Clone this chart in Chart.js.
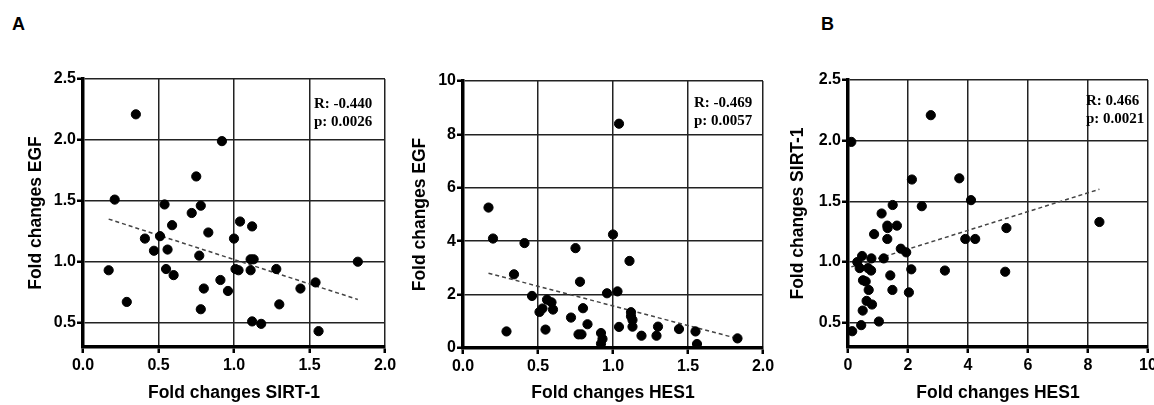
<!DOCTYPE html>
<html>
<head>
<meta charset="utf-8">
<script src="https://cdn.jsdelivr.net/npm/chart.js@4"></script>
<style>
  body { margin: 0; background: #fff; }
  #wrap { position: relative; width: 1154px; height: 405px; overflow: hidden; }
  .panel { position: absolute; top: 0; height: 405px; }
  .letter { position: absolute; font: bold 18px "Liberation Sans", Arial, sans-serif; color: #000; }
</style>
</head>
<body>
<div id="wrap">
  <div class="letter" style="left:12px; top:14px;">A</div>
  <div class="letter" style="left:821px; top:14px;">B</div>
  <div class="panel" style="left:0; width:400px;"><canvas id="c1"></canvas></div>
  <div class="panel" style="left:400px; width:380px;"><canvas id="c2"></canvas></div>
  <div class="panel" style="left:780px; width:374px;"><canvas id="c3"></canvas></div>
</div>
<script>
// panel A left: SIRT-1 vs EGF
const sirtX = [0.35, 0.92, 0.75, 0.21, 0.54, 0.78, 0.72, 0.59, 1.04, 1.12, 0.83, 0.41, 0.51, 1.00, 0.47,
  0.56, 0.77, 1.11, 1.13, 1.82, 0.17, 0.55, 0.60, 1.01, 1.03, 1.11, 1.28, 0.91, 1.54, 0.80, 0.96, 1.44,
  0.29, 1.30, 0.78, 1.12, 1.18, 1.56];
const egfY1 = [2.21, 1.99, 1.70, 1.51, 1.47, 1.46, 1.40, 1.30, 1.33, 1.29, 1.24, 1.19, 1.21, 1.19, 1.09,
  1.10, 1.05, 1.02, 1.02, 1.00, 0.93, 0.94, 0.89, 0.94, 0.93, 0.93, 0.94, 0.85, 0.83, 0.78, 0.76, 0.78,
  0.67, 0.65, 0.61, 0.51, 0.49, 0.43];
const trendA1X = [0.17, 1.82];
const trendA1Y = [1.35, 0.69];
const statsA1 = ['R: -0.440', 'p: 0.0026'];

// panel A right: HES1 vs EGF
const hesX2 = [1.04, 0.17, 0.20, 0.41, 1.00, 0.75, 1.11, 0.34, 0.78, 0.96, 1.03, 0.46, 0.56, 0.59, 0.60,
  0.53, 0.51, 0.80, 0.72, 1.12, 1.12, 1.13, 1.13, 0.83, 1.04, 1.30, 1.44, 1.55, 0.29, 0.55, 0.77, 0.79,
  0.92, 0.93, 0.92, 1.19, 1.29, 1.83, 1.56];
const egfY2 = [8.40, 5.26, 4.10, 3.93, 4.25, 3.74, 3.26, 2.76, 2.48, 2.05, 2.12, 1.95, 1.81, 1.71, 1.44,
  1.48, 1.35, 1.49, 1.14, 1.34, 1.19, 1.05, 0.80, 0.89, 0.79, 0.80, 0.71, 0.62, 0.62, 0.69, 0.51, 0.51,
  0.56, 0.34, 0.16, 0.46, 0.46, 0.36, 0.15];
const trendA2X = [0.17, 1.80];
const trendA2Y = [2.80, 0.40];
const statsA2 = ['R: -0.469', 'p: 0.0057'];

// panel B: HES1 vs SIRT-1
const hesX3 = [2.76, 0.11, 3.71, 2.13, 4.10, 1.49, 2.46, 1.12, 1.63, 1.31, 5.28, 8.38, 0.87, 1.32, 1.31,
  3.91, 4.24, 1.76, 1.94, 0.47, 0.78, 1.19, 0.31, 0.39, 0.67, 0.77, 2.11, 3.23, 5.24, 1.41, 0.50, 0.59,
  0.69, 1.48, 2.03, 0.62, 0.80, 0.49, 1.03, 0.44, 0.14];
const sirtY3 = [2.21, 1.99, 1.69, 1.68, 1.51, 1.47, 1.46, 1.40, 1.30, 1.30, 1.28, 1.33, 1.23, 1.28, 1.19,
  1.19, 1.19, 1.11, 1.08, 1.05, 1.03, 1.03, 1.00, 0.95, 0.95, 0.93, 0.94, 0.93, 0.92, 0.89, 0.85, 0.84,
  0.77, 0.77, 0.75, 0.68, 0.65, 0.60, 0.51, 0.48, 0.43];
const trendBX = [0.11, 8.38];
const trendBY = [0.96, 1.60];
const statsB = ['R: 0.466', 'p: 0.0021'];

// ticks
const ticksSirt = [0.0, 0.5, 1.0, 1.5, 2.0];
const ticksSirtLbl = ['0.0', '0.5', '1.0', '1.5', '2.0'];
const ticksFold = [0.5, 1.0, 1.5, 2.0, 2.5];
const ticksFoldLbl = ['0.5', '1.0', '1.5', '2.0', '2.5'];
const ticksEgf10 = [0, 2, 4, 6, 8, 10];
const ticksEgf10Lbl = ['0', '2', '4', '6', '8', '10'];

const sans = '"Liberation Sans", Arial, sans-serif';

function pts(xs, ys) {
  return xs.map((x, i) => ({ x: x, y: ys[i] }));
}

function axis(min, max, tickVals, tickLbls, title, horiz, size, titlePad) {
  return {
    type: 'linear',
    min: min,
    max: max,
    afterBuildTicks: s => { s.ticks = tickVals.map(v => ({ value: v })); },
    afterFit: s => {
      if (horiz) { s.height = size; s.paddingLeft = 0; s.paddingRight = 0; }
      else { s.width = size; s.paddingTop = 0; s.paddingBottom = 0; }
    },
    ticks: {
      autoSkip: false,
      maxRotation: 0,
      padding: horiz ? 3 : 1,
      color: '#000',
      font: { family: sans, size: 16, weight: 'bold' },
      callback: (v, i) => tickLbls[i]
    },
    grid: {
      color: '#222',
      lineWidth: 1.5,
      tickColor: '#000',
      tickWidth: 2.5,
      tickLength: 6
    },
    border: { color: '#000', width: 3.5 },
    title: {
      display: true,
      text: title,
      color: '#000',
      font: { family: sans, size: 17.5, weight: 'bold' },
      padding: titlePad
    }
  };
}

const statsPlugin = {
  id: 'stats',
  afterDraw(chart, args, opts) {
    const ctx = chart.ctx;
    const a = chart.chartArea;
    ctx.save();
    ctx.fillStyle = '#000';
    ctx.font = 'bold 15px "Liberation Serif", "Times New Roman", serif';
    ctx.textBaseline = 'alphabetic';
    opts.lines.forEach((t, i) => {
      ctx.fillText(t, a.right - opts.dx, a.top + opts.dy + i * 18);
    });
    ctx.restore();
  }
};

function makeChart(id, xs, ys, tx, ty, xAxis, yAxis, pad, stats) {
  new Chart(document.getElementById(id), {
    type: 'scatter',
    data: {
      datasets: [{
        data: pts(xs, ys),
        backgroundColor: '#000',
        borderColor: '#000',
        pointRadius: 4.6,
        pointHoverRadius: 4.6,
        clip: false
      }, {
        type: 'line',
        data: pts(tx, ty),
        borderColor: '#444',
        borderWidth: 1.5,
        borderDash: [4, 3],
        pointRadius: 0,
        fill: false
      }]
    },
    options: {
      responsive: true,
      maintainAspectRatio: false,
      animation: false,
      layout: { padding: pad },
      plugins: {
        legend: { display: false },
        tooltip: { enabled: false },
        stats: stats
      },
      scales: { x: xAxis, y: yAxis }
    },
    plugins: [statsPlugin]
  });
}

makeChart('c1', sirtX, egfY1, trendA1X, trendA1Y,
  axis(0, 2, ticksSirt, ticksSirtLbl, 'Fold changes SIRT-1', true, 58, { top: 0, bottom: 1 }),
  axis(0.3, 2.5, ticksFold, ticksFoldLbl, 'Fold changes EGF', false, 83, { top: 26, bottom: 0 }),
  { top: 79, right: 15, bottom: 0, left: 0 },
  { lines: statsA1, dx: 71, dy: 29 });

makeChart('c2', hesX2, egfY2, trendA2X, trendA2Y,
  axis(0, 2, ticksSirt, ticksSirtLbl, 'Fold changes HES1', true, 57, { top: 0, bottom: 1 }),
  axis(0, 10, ticksEgf10, ticksEgf10Lbl, 'Fold changes EGF', false, 63, { top: 10, bottom: 0 }),
  { top: 81, right: 17, bottom: 0, left: 0 },
  { lines: statsA2, dx: 69, dy: 26 });

makeChart('c3', hesX3, sirtY3, trendBX, trendBY,
  axis(0, 10, ticksEgf10, ticksEgf10Lbl, 'Fold changes HES1', true, 58, { top: 0, bottom: 1 }),
  axis(0.3, 2.5, ticksFold, ticksFoldLbl, 'Fold changes SIRT-1', false, 68, { top: 8, bottom: 0 }),
  { top: 80, right: 6, bottom: 0, left: 0 },
  { lines: statsB, dx: 62, dy: 25 });
</script>
</body>
</html>
